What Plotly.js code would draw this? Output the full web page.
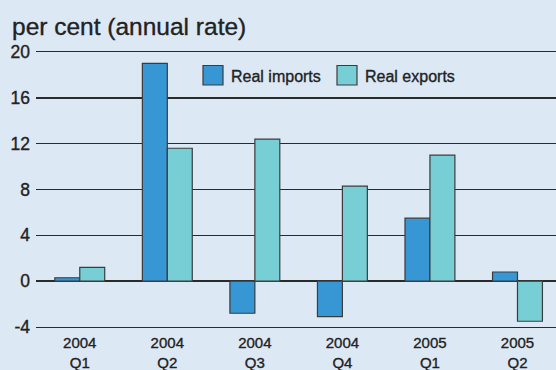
<!DOCTYPE html>
<html>
<head>
<meta charset="utf-8">
<script src="https://cdn.plot.ly/plotly-3.0.1.min.js"></script>
<style>
html,body{margin:0;padding:0;background:#dde8f5;}
#chart{width:556px;height:370px;}
#chart svg text{stroke:#222222;stroke-width:0.35px;}
</style>
</head>
<body>
<div id="chart"></div>
<script>
const categories = ["2004<br>Q1", "2004<br>Q2", "2004<br>Q3", "2004<br>Q4", "2005<br>Q1", "2005<br>Q2"];
const realImports = [0.3, 19.0, -2.8, -3.1, 5.5, 0.8];
const realExports = [1.2, 11.6, 12.4, 8.3, 11.0, -3.5];
const yTicks = [-4, 0, 4, 8, 12, 16, 20];

const bg = "#dde8f5";
const importColor = "#3796d4";
const exportColor = "#77ced4";
const outline = "#3c3c3c";
const textColor = "#222222";
const lineColor = "#2a2a2a";
const fontFam = "Liberation Sans, Arial, Helvetica, sans-serif";

const idx = categories.map((c, i) => i);

const traces = [
  {type: "bar", name: "Real imports", x: idx, y: realImports,
   marker: {color: importColor, line: {color: outline, width: 1.2}}, hoverinfo: "y"},
  {type: "bar", name: "Real exports", x: idx, y: realExports,
   marker: {color: exportColor, line: {color: outline, width: 1.2}}, hoverinfo: "y"}
];

const W = 556, H = 370;
const mL = 36, mR = 0, mT = 52, mB = 43;
const pw = W - mL - mR, ph = H - mT - mB;
function px(x){ return (x - mL) / pw; }
function py(y){ return 1 - (y - mT) / ph; }

const legendItems = [
  {label: "Real imports", color: importColor, x0: 203},
  {label: "Real exports", color: exportColor, x0: 337}
];
const shapes = [];
const annotations = [];
legendItems.forEach(it => {
  shapes.push({type: "rect", xref: "paper", yref: "paper",
    x0: px(it.x0), x1: px(it.x0 + 20), y0: py(85), y1: py(65.5),
    fillcolor: it.color, line: {color: outline, width: 1.2}, layer: "above"});
  annotations.push({xref: "paper", yref: "paper", x: px(it.x0 + 26), y: py(76),
    xanchor: "left", yanchor: "middle", showarrow: false, text: it.label,
    font: {family: fontFam, size: 16, color: textColor}});
});

const layout = {
  width: W, height: H,
  paper_bgcolor: bg, plot_bgcolor: bg,
  margin: {l: mL, r: mR, t: mT, b: mB, pad: 0},
  font: {family: fontFam, color: textColor, size: 16},
  title: {text: "per cent (annual rate)", x: 12 / W, xanchor: "left", xref: "container",
          y: 1 - 26.5 / H, yanchor: "middle", yref: "container",
          font: {family: fontFam, size: 24.5, color: textColor}},
  showlegend: false,
  barmode: "group",
  bargap: 0.43,
  bargroupgap: 0,
  xaxis: {
    range: [-0.5, 5.44], tickmode: "array", tickvals: idx, ticktext: categories,
    showgrid: false, zeroline: false,
    showline: true, mirror: true, linecolor: lineColor, linewidth: 1.4,
    ticks: "", ticklabelstandoff: 2,
    tickfont: {family: fontFam, size: 15, color: textColor}, fixedrange: true
  },
  yaxis: {
    range: [-4, 20], tickmode: "array", tickvals: yTicks, ticktext: yTicks.map(String),
    showgrid: true, gridcolor: lineColor, gridwidth: 1.4,
    zeroline: true, zerolinecolor: lineColor, zerolinewidth: 1.4,
    showline: false, ticks: "", ticklabelstandoff: 5,
    tickfont: {family: fontFam, size: 17.5, color: textColor}, fixedrange: true
  },
  shapes: shapes,
  annotations: annotations
};

Plotly.newPlot("chart", traces, layout, {displayModeBar: false, staticPlot: true});
</script>
</body>
</html>
